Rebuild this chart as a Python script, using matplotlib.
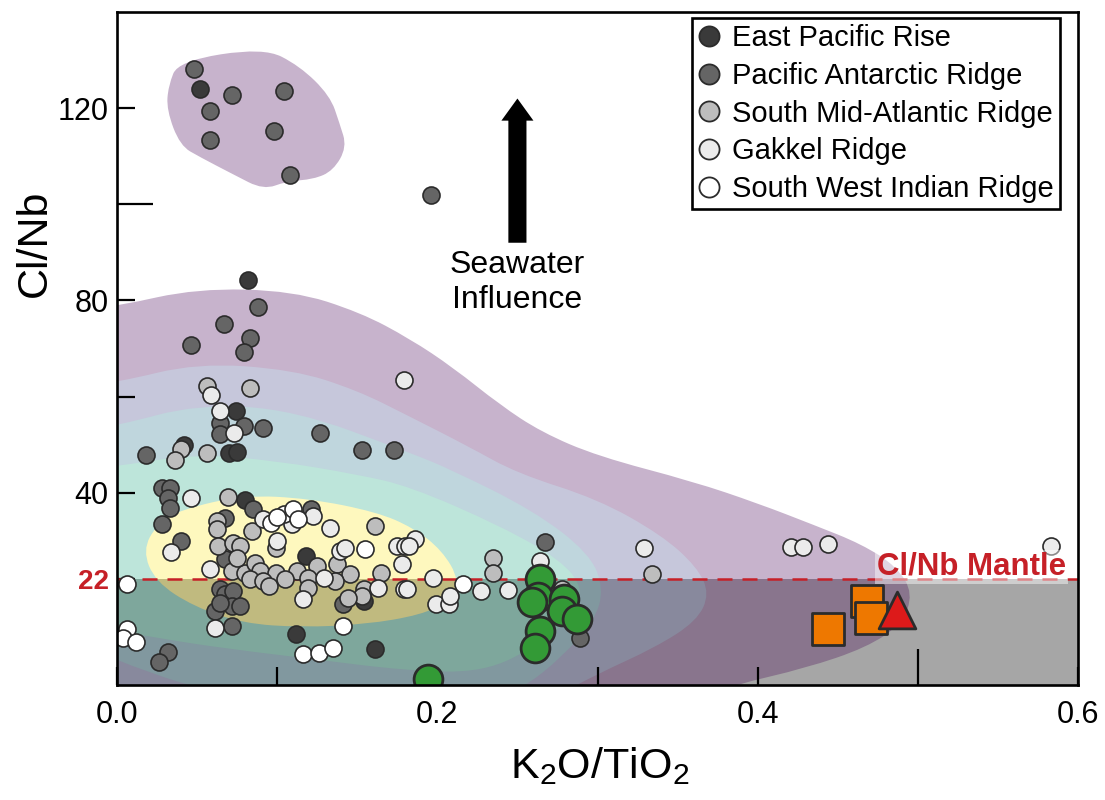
import numpy as np
import matplotlib
matplotlib.use("Agg")
import matplotlib.pyplot as plt
from matplotlib.path import Path
from matplotlib.patches import PathPatch, Rectangle
from matplotlib.lines import Line2D
from matplotlib.colors import to_rgb

plt.rcParams["font.family"] = ["Liberation Sans", "DejaVu Sans"]
plt.rcParams["mathtext.fontset"] = "custom"
plt.rcParams["mathtext.rm"] = "Liberation Sans"
plt.rcParams["mathtext.default"] = "regular"

# ---------------------------------------------------------------- data
MANTLE_CLNB = 22

epr_x = [0.052, 0.082, 0.074, 0.042, 0.070, 0.075, 0.080, 0.118, 0.154, 0.112, 0.161]
epr_y = [124.0, 84.3, 56.9, 50.0, 48.3, 48.5, 38.5, 26.9, 17.5, 10.6, 7.5]

par_x = [0.048, 0.072, 0.104, 0.058, 0.098, 0.058, 0.108, 0.196,
         0.088, 0.067, 0.046, 0.083, 0.079, 0.064, 0.079, 0.064, 0.091, 0.127,
         0.153, 0.173, 0.018,
         0.028, 0.033, 0.032, 0.033, 0.028, 0.085, 0.040, 0.0675, 0.0675, 0.121,
         0.064, 0.0675, 0.0725, 0.061, 0.072, 0.077, 0.064, 0.072, 0.141,
         0.032, 0.026, 0.267, 0.289]
par_y = [128.1, 122.7, 123.5, 119.4, 115.2, 113.3, 106.0, 101.9,
         78.6, 75.2, 70.8, 72.1, 69.2, 54.4, 53.8, 52.3, 53.5, 52.5,
         48.8, 48.8, 47.9,
         41.0, 41.0, 39.0, 36.9, 33.5, 36.7, 30.0, 34.8, 26.3, 36.7,
         20.0, 19.0, 19.6, 15.4, 16.5, 16.5, 17.1, 12.3, 16.9,
         6.9, 4.8, 29.8, 9.8]

smar_x = [0.056, 0.083, 0.040, 0.036, 0.056, 0.069, 0.0625, 0.0625, 0.063,
          0.0725, 0.077, 0.072, 0.080, 0.086, 0.089, 0.099, 0.083, 0.091,
          0.084, 0.099, 0.125, 0.1125, 0.119, 0.1375, 0.1456, 0.136, 0.161,
          0.165, 0.154, 0.153, 0.144, 0.119, 0.235, 0.235, 0.278, 0.334,
          0.095, 0.105, 0.075]
smar_y = [62.1, 61.7, 49.0, 46.9, 48.3, 39.2, 34.2, 32.5, 29.0,
          29.6, 29.0, 23.8, 23.3, 25.4, 23.8, 23.3, 22.1, 21.7,
          32.1, 28.5, 24.8, 23.8, 22.3, 25.2, 23.1, 21.7, 33.1,
          23.3, 20.0, 18.5, 18.1, 20.2, 26.5, 23.3, 20.0, 23.1,
          20.5, 22.0, 26.5]

gakkel_x = [0.059, 0.179, 0.064, 0.073, 0.046, 0.034, 0.058, 0.091, 0.109,
            0.1225, 0.100, 0.133, 0.129, 0.139, 0.1425, 0.163, 0.116, 0.175,
            0.180, 0.178, 0.179, 0.061, 0.186, 0.182, 0.197, 0.227, 0.244,
            0.199, 0.207, 0.208, 0.181, 0.264, 0.329, 0.421, 0.428, 0.444,
            0.583]
gakkel_y = [60.4, 63.5, 57.1, 52.5, 39.0, 27.7, 24.2, 34.6, 33.5,
            35.2, 30.0, 32.7, 22.3, 27.9, 28.5, 20.2, 17.9, 29.0,
            29.0, 25.2, 20.0, 11.9, 30.4, 29.0, 22.3, 19.6, 19.8,
            16.9, 16.9, 18.5, 20.0, 25.8, 28.5, 28.8, 28.8, 29.4,
            29.0]

swir_x = [0.006, 0.096, 0.104, 0.110, 0.155, 0.141, 0.116, 0.126, 0.135,
          0.006, 0.004, 0.012, 0.216, 0.100, 0.113]
swir_y = [21.0, 33.8, 35.6, 36.7, 28.3, 12.3, 6.5, 6.7, 7.7,
          11.7, 9.8, 9.0, 21.0, 35.0, 34.5]

green_x = [0.264, 0.263, 0.259, 0.279, 0.278, 0.2875, 0.264, 0.261, 0.194]
green_y = [22.0, 18.3, 17.3, 17.9, 15.3, 13.8, 11.2, 7.8, 1.3]

square_x = [0.444, 0.468, 0.471]
square_y = [11.7, 17.4, 14.0]

triangle_x = [0.487]
triangle_y = [15.5]

# global MORB density field outlines, outermost to innermost
field1_x = [-0.04, -0.04, 0.0, 0.05, 0.11, 0.152, 0.183, 0.21, 0.239, 0.265, 0.30,
            0.36, 0.40, 0.435, 0.465, 0.487, 0.497, 0.49, 0.468, 0.43, 0.385, 0.35, 0.2]
field1_y = [-6, 77, 78.8, 82.5, 82.0, 77.5, 72.0, 66.0, 58.3, 52.6, 47.6,
            42.3, 37.8, 33.3, 29.3, 24.6, 19.0, 12.7, 7.8, 3.5, 0.0, -4, -6]

field2_x = [-0.04, -0.04, 0.0, 0.05, 0.11, 0.15, 0.183, 0.219, 0.25, 0.30, 0.34,
            0.362, 0.37, 0.362, 0.336, 0.30, 0.27, 0.15]
field2_y = [-6, 61.5, 62.9, 67.0, 65.6, 61.3, 55.8, 49.7, 44.0, 38.7, 31.2,
            24.6, 19.0, 13.3, 7.8, 2.3, -3, -6]

field3_x = [0.06, 0.02, -0.02, -0.04, -0.04, 0.0, 0.05, 0.11, 0.183, 0.208, 0.26,
            0.295, 0.304, 0.298, 0.277, 0.256, 0.24, 0.15]
field3_y = [-1.5, 2.5, 8.0, 20, 52, 53.9, 58.4, 57.3, 48.3, 44.9, 36.3,
            27.4, 20.0, 13.3, 5.6, 0.0, -2.5, -3.0]

field4_x = [-0.04, -0.04, 0.0, 0.05, 0.10, 0.15, 0.183, 0.24, 0.277, 0.291, 0.286,
            0.264, 0.229, 0.18, 0.12, 0.07, 0.03, -0.02]
field4_y = [20, 44, 45.5, 48.1, 46.6, 43.8, 41.3, 33.0, 26.0, 20.2, 14.8,
            8.5, 2.6, 3.0, 5.5, 7.5, 9.5, 12.5]

field5_x = [0.016, 0.025, 0.04, 0.079, 0.12, 0.162, 0.185, 0.203, 0.214, 0.207,
            0.19, 0.155, 0.115, 0.079, 0.048, 0.024]
field5_y = [28.0, 33.5, 36.5, 39.5, 38.8, 36.0, 32.7, 28.0, 21.7, 17.4,
            14.6, 12.6, 12.0, 12.8, 16.3, 21.5]

# Pacific Antarctic Ridge high Cl/Nb field
par_field_x = [0.0383, 0.0915, 0.114, 0.133, 0.139, 0.1435, 0.135, 0.1227, 0.106,
               0.0915, 0.0727, 0.0519, 0.0394, 0.031, 0.032]
par_field_y = [129.8, 132.6, 128.8, 122.6, 116.8, 111.9, 107.0, 105.2, 104.8,
               103.0, 106.2, 109.8, 112.2, 119.6, 124.6]

series_labels = ["East Pacific Rise", "Pacific Antarctic Ridge",
                 "South Mid-Atlantic Ridge", "Gakkel Ridge",
                 "South West Indian Ridge"]

# ---------------------------------------------------------------- styling
RED = "#c62027"
GRAY = "#a6a6a6"
EDGE = "#2b2b2b"
series_colors = ["#3a3a3a", "#656565", "#bdbdbd", "#ebebeb", "#ffffff"]
field_colors = ["#440154", "#414487", "#2a788e", "#22a884", "#fde725"]
FIELD_ALPHA = 0.3


def blend(base, color, alpha=FIELD_ALPHA):
    return tuple((1 - alpha) * np.array(to_rgb(base)) + alpha * np.array(to_rgb(color)))


def closed_spline(xs, ys):
    """Smooth closed outline (quadratic B-spline through the given control points)."""
    pts = np.column_stack([xs, ys]).astype(float)
    mids = (pts + np.roll(pts, -1, axis=0)) / 2.0
    verts = [mids[-1]]
    codes = [Path.MOVETO]
    for p, m in zip(pts, mids):
        verts += [p, m]
        codes += [Path.CURVE3, Path.CURVE3]
    verts.append(mids[-1])
    codes.append(Path.CLOSEPOLY)
    return Path(np.array(verts), codes)


fig = plt.figure(figsize=(11.05, 8.0), dpi=100)
ax = fig.add_axes([117 / 1105, 1 - 685 / 800, (1078 - 117) / 1105, (685 - 12) / 800])
ax.set_xlim(0, 0.6)
ax.set_ylim(0, 140)

# grey band below the mantle Cl/Nb value
ax.add_patch(Rectangle((0, 0), 0.6, MANTLE_CLNB, facecolor=GRAY,
                       edgecolor="none", zorder=0))

upper_clip = Rectangle((0, MANTLE_CLNB), 0.6, 140 - MANTLE_CLNB, transform=ax.transData)
lower_clip = Rectangle((0, 0), 0.6, MANTLE_CLNB, transform=ax.transData)

fields = [(field1_x, field1_y), (field2_x, field2_y), (field3_x, field3_y),
          (field4_x, field4_y), (field5_x, field5_y)]
for (fx, fy), col in zip(fields, field_colors):
    path = closed_spline(fx, fy)
    for base, clip in (("white", upper_clip), (GRAY, lower_clip)):
        patch = PathPatch(path, facecolor=blend(base, col), edgecolor="none", zorder=1)
        ax.add_patch(patch)
        patch.set_clip_path(clip)

par_patch = PathPatch(closed_spline(par_field_x, par_field_y),
                      facecolor=blend("white", field_colors[0]), edgecolor="none", zorder=1)
ax.add_patch(par_patch)

# mantle reference line
ax.axhline(MANTLE_CLNB, color=RED, lw=1.8, ls=(0, (6, 4)), zorder=2)

# ridge samples
series = [(epr_x, epr_y), (par_x, par_y), (smar_x, smar_y),
          (gakkel_x, gakkel_y), (swir_x, swir_y)]
for (sx, sy), col in zip(series, series_colors):
    ax.scatter(sx, sy, s=150, c=col, edgecolors=EDGE, linewidths=1.2, zorder=3)

ax.scatter(green_x, green_y, s=430, c="#339a36", edgecolors=EDGE, linewidths=2.0, zorder=4)
ax.scatter(square_x, square_y, marker="s", s=520, c="#ee7800", edgecolors=EDGE,
           linewidths=2.0, zorder=4)
ax.scatter(triangle_x, triangle_y, marker="^", s=700, c="#dd1a1a", edgecolors=EDGE,
           linewidths=2.0, zorder=5)

# seawater arrow and annotation
ax.arrow(0.25, 92, 0, 30, width=0.0113, head_width=0.02, head_length=4.6,
         length_includes_head=True, fc="black", ec="none", zorder=5)
ax.text(0.25, 90.5, "Seawater\nInfluence", ha="center", va="top",
        fontsize=23, linespacing=1.2, zorder=6)

ax.text(0.5925, 24.6, "Cl/Nb Mantle", ha="right", va="center", fontsize=22.5,
        fontweight="bold", color=RED, zorder=6,
        bbox=dict(facecolor="white", alpha=0.45, edgecolor="none", pad=1.5))

# axes, ticks, labels
ax.set_yticks([MANTLE_CLNB, 40, 60, 80, 120])
ax.set_yticklabels([str(MANTLE_CLNB), "40", "", "80", "120"])
ax.set_yticks([100], minor=True)
ax.set_xticks([0.0, 0.1, 0.2, 0.3, 0.4, 0.6])
ax.set_xticklabels(["0.0", "", "0.2", "", "0.4", "0.6"])
ax.set_xticks([0.5], minor=True)
ax.tick_params(which="major", direction="in", length=13, width=1.6,
               labelsize=22, color="black")
ax.tick_params(which="minor", direction="in", length=26, width=1.6)
ax.tick_params(axis="y", which="major", pad=6)
ax.tick_params(axis="x", which="major", pad=11)
ax.tick_params(top=False, right=False, which="both")
lab22 = ax.get_yticklabels()[0]
lab22.set_color(RED)
lab22.set_fontweight("bold")
lab22.set_fontsize(20)

for sp in ax.spines.values():
    sp.set_linewidth(1.9)
    sp.set_zorder(7)

fig.text(35 / 1105, 1 - 243 / 800, "Cl/Nb", rotation=90, ha="center", va="center",
         fontsize=31)
fig.text(600 / 1105, 1 - 778 / 800, r"K$_2$O/TiO$_2$", ha="center", va="baseline",
         fontsize=31)

handles = [Line2D([], [], marker="o", ls="none", markersize=14.5,
                  markerfacecolor=c, markeredgecolor=EDGE, markeredgewidth=1.3)
           for c in series_colors]
leg = ax.legend(handles, series_labels, loc="upper right",
                bbox_to_anchor=((1060 - 117) / 961, (685 - 18) / 673),
                borderaxespad=0, fontsize=21, frameon=True, fancybox=False,
                edgecolor="black", framealpha=1, handlelength=0.75,
                handletextpad=0.4, labelspacing=0.33, borderpad=0.22)
leg.get_frame().set_linewidth(1.9)
leg.set_zorder(8)

fig.savefig("out.png", dpi=100)
